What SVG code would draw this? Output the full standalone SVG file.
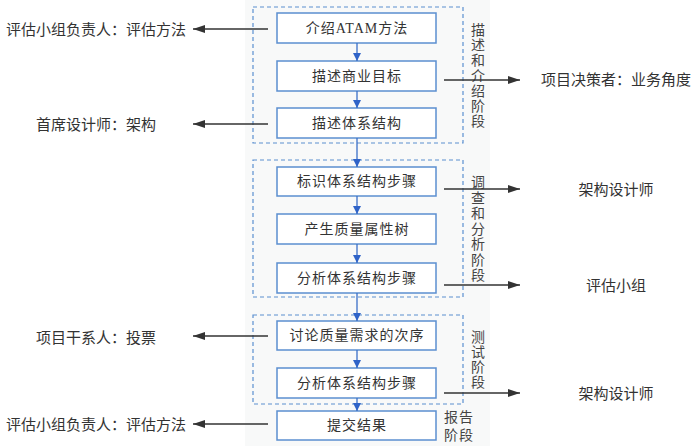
<svg xmlns="http://www.w3.org/2000/svg" width="700" height="448" viewBox="0 0 700 448">
  <style>
    .step rect { fill: #ffffff; stroke: #5b8fd0; stroke-width: 1.5; }
    .step text { font-family: "Liberation Serif", "Noto Sans CJK SC", serif; font-size: 14px; fill: #333; text-anchor: middle; letter-spacing: 1px; }
    .phase { fill: none; stroke: #5b8fd0; stroke-width: 1.2; stroke-dasharray: 4 3; }
    .phase-label { font-family: "Liberation Serif", "Noto Sans CJK SC", serif; font-size: 14px; fill: #444; text-anchor: middle; }
    .flow { stroke: #3a6fc8; stroke-width: 1.3; fill: none; marker-end: url(#blueHead); }
    .role-line { stroke: #333; stroke-width: 1.5; fill: none; marker-end: url(#blackHead); }
    .role { font-family: "Noto Sans CJK SC", sans-serif; font-size: 15px; fill: #333; }
  </style>
  <defs>
    <marker id="blueHead" viewBox="0 0 8 8" refX="8" refY="4" markerWidth="8" markerHeight="8" markerUnits="userSpaceOnUse" orient="auto">
      <path d="M0,0 L8,4 L0,8 z" fill="#2f63c8"/>
    </marker>
    <marker id="blackHead" viewBox="0 0 12 8" refX="12" refY="4" markerWidth="12" markerHeight="8" markerUnits="userSpaceOnUse" orient="auto">
      <path d="M0,0 L12,4 L0,8 z" fill="#333"/>
    </marker>
  </defs>

  <!-- light backing panel behind the process column -->
  <rect x="245" y="0" width="245" height="446" fill="#f8f9f9"/>

  <!-- phase frames -->
  <g id="phases">
    <rect class="phase" x="253" y="7" width="210" height="136"/>
    <rect class="phase" x="253" y="160" width="210" height="137"/>
    <rect class="phase" x="253" y="315" width="210" height="89"/>
  </g>

  <!-- phase labels -->
  <g id="phase-labels">
    <text class="phase-label"><tspan x="478" y="35">描</tspan><tspan x="478" dy="15.2">述</tspan><tspan x="478" dy="15.2">和</tspan><tspan x="478" dy="15.2">介</tspan><tspan x="478" dy="15.2">绍</tspan><tspan x="478" dy="15.2">阶</tspan><tspan x="478" dy="15.2">段</tspan></text>
    <text class="phase-label"><tspan x="478" y="187">调</tspan><tspan x="478" dy="15.5">查</tspan><tspan x="478" dy="15.5">和</tspan><tspan x="478" dy="15.5">分</tspan><tspan x="478" dy="15.5">析</tspan><tspan x="478" dy="15.5">阶</tspan><tspan x="478" dy="15.5">段</tspan></text>
    <text class="phase-label"><tspan x="478" y="342">测</tspan><tspan x="478" dy="15">试</tspan><tspan x="478" dy="15">阶</tspan><tspan x="478" dy="15">段</tspan></text>
    <text class="phase-label" letter-spacing="1"><tspan x="459" y="422">报告</tspan><tspan x="459" dy="18">阶段</tspan></text>
  </g>

  <!-- process steps -->
  <g id="step1" class="step"><rect x="277" y="13" width="159" height="30"/><text x="357" y="33">介绍ATAM方法</text></g>
  <g id="step2" class="step"><rect x="277" y="61" width="159" height="30"/><text x="357" y="81">描述商业目标</text></g>
  <g id="step3" class="step"><rect x="277" y="108" width="159" height="30"/><text x="357" y="128">描述体系结构</text></g>
  <g id="step4" class="step"><rect x="277" y="167" width="159" height="29"/><text x="357" y="186">标识体系结构步骤</text></g>
  <g id="step5" class="step"><rect x="277" y="214" width="159" height="30"/><text x="357" y="234">产生质量属性树</text></g>
  <g id="step6" class="step"><rect x="277" y="263" width="159" height="30"/><text x="357" y="283">分析体系结构步骤</text></g>
  <g id="step7" class="step"><rect x="277" y="321" width="159" height="29"/><text x="357" y="340">讨论质量需求的次序</text></g>
  <g id="step8" class="step"><rect x="277" y="368" width="159" height="30"/><text x="357" y="388">分析体系结构步骤</text></g>
  <g id="step9" class="step"><rect x="277" y="411" width="159" height="29"/><text x="357" y="430">提交结果</text></g>

  <!-- roles -->
  <g id="role-left-1"><text class="role" x="96" y="35" text-anchor="middle">评估小组负责人：评估方法</text></g>
  <g id="role-left-2"><text class="role" x="96" y="130" text-anchor="middle">首席设计师：架构</text></g>
  <g id="role-left-3"><text class="role" x="96" y="343" text-anchor="middle">项目干系人：投票</text></g>
  <g id="role-left-4"><text class="role" x="96" y="430" text-anchor="middle">评估小组负责人：评估方法</text></g>
  <g id="role-right-1"><text class="role" x="616" y="85" text-anchor="middle">项目决策者：业务角度</text></g>
  <g id="role-right-2"><text class="role" x="616" y="195" text-anchor="middle">架构设计师</text></g>
  <g id="role-right-3"><text class="role" x="616" y="291" text-anchor="middle">评估小组</text></g>
  <g id="role-right-4"><text class="role" x="616" y="399" text-anchor="middle">架构设计师</text></g>

  <!-- connectors -->
  <g id="connectors">
    <line class="flow" x1="357" y1="43" x2="357" y2="61"/>
    <line class="flow" x1="357" y1="91" x2="357" y2="108"/>
    <line class="flow" x1="357" y1="138" x2="357" y2="167"/>
    <line class="flow" x1="357" y1="196" x2="357" y2="214"/>
    <line class="flow" x1="357" y1="244" x2="357" y2="263"/>
    <line class="flow" x1="357" y1="293" x2="357" y2="321"/>
    <line class="flow" x1="357" y1="350" x2="357" y2="368"/>
    <line class="flow" x1="357" y1="398" x2="357" y2="411"/>

    <line class="role-line" x1="268" y1="29" x2="193" y2="29"/>
    <line class="role-line" x1="268" y1="124" x2="193" y2="124"/>
    <line class="role-line" x1="268" y1="336" x2="193" y2="336"/>
    <line class="role-line" x1="268" y1="424" x2="193" y2="424"/>
    <line class="role-line" x1="444" y1="80" x2="520" y2="80"/>
    <line class="role-line" x1="444" y1="189" x2="520" y2="189"/>
    <line class="role-line" x1="444" y1="285" x2="520" y2="285"/>
    <line class="role-line" x1="444" y1="393" x2="520" y2="393"/>
  </g>
</svg>
